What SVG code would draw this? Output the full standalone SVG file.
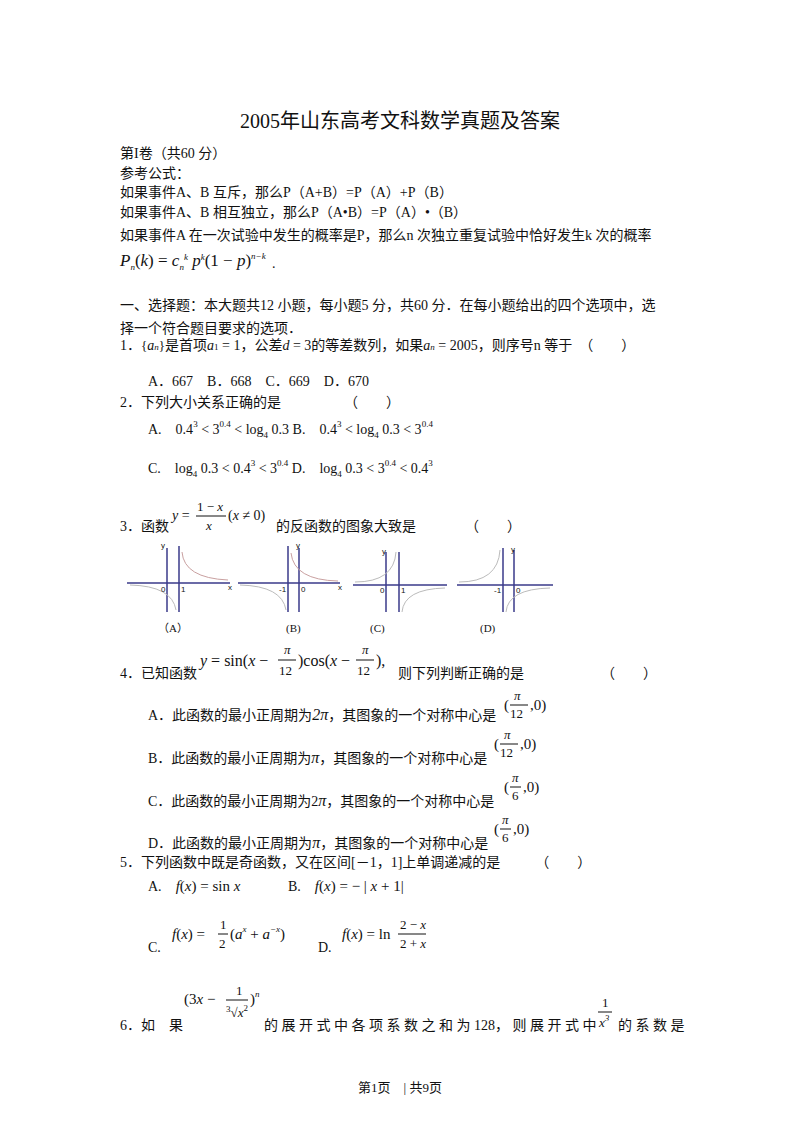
<svg xmlns="http://www.w3.org/2000/svg" width="800" height="1132" viewBox="0 0 800 1132">
<style>
text{font-family:"Liberation Serif","Noto Sans CJK SC",serif;font-size:14px;fill:#111}
.m{font-style:italic}
.ax{stroke:#3a3a8a;stroke-width:1.5;fill:none}
.cv{stroke:#c9a0a0;stroke-width:1;fill:none}
.cg{stroke:#bbb;stroke-width:1;fill:none}
.s{font-size:9px}
.t{font-size:8px;font-family:"Liberation Sans",sans-serif}
</style>
<rect width="800" height="1132" fill="#fff"/>
<text x="400" y="128" text-anchor="middle" style="font-size:20px">2005年山东高考文科数学真题及答案</text>
<text x="120" y="158">第I卷（共60 分）</text>
<text x="120" y="178">参考公式：</text>
<text x="120" y="197">如果事件A、B 互斥，那么P（A+B）=P（A）+P（B）</text>
<text x="120" y="217">如果事件A、B 相互独立，那么P（A•B）=P（A）•（B）</text>
<text x="120" y="240">如果事件A 在一次试验中发生的概率是P，那么n 次独立重复试验中恰好发生k 次的概率</text>
<text x="120" y="266" style="font-size:17px"><tspan class="m">P</tspan><tspan class="s m" dy="4">n</tspan><tspan dy="-4">(</tspan><tspan class="m">k</tspan>) = <tspan class="m">c</tspan><tspan class="s m" dy="4">n</tspan><tspan class="s m" dy="-10">k</tspan><tspan dy="6"> </tspan><tspan class="m">p</tspan><tspan class="s m" dy="-6">k</tspan><tspan dy="6">(1 − </tspan><tspan class="m">p</tspan>)<tspan class="s m" dy="-7">n−k</tspan></text>
<text x="272" y="268">.</text>
<text x="120" y="310">一、选择题：本大题共12 小题，每小题5 分，共60 分．在每小题给出的四个选项中，选</text>
<text x="120" y="333">择一个符合题目要求的选项．</text>
<text x="120" y="350">1．<tspan style="font-size:13px">{</tspan><tspan class="m">a</tspan><tspan class="s m">n</tspan><tspan style="font-size:13px">}</tspan>是首项<tspan class="m">a</tspan><tspan class="s">1</tspan> = 1，公差<tspan class="m">d</tspan> = 3的等差数列，如果<tspan class="m">a</tspan><tspan class="s m">n</tspan> = 2005，则序号n 等于　（　　）</text>
<text x="148" y="386">A．667　B．668　C．669　D．670</text>
<text x="120" y="407">2．下列大小关系正确的是　　　　　（　　）</text>
<text x="148" y="434">A.　0.4<tspan class="s" dy="-7">3</tspan><tspan dy="7"> &lt; 3</tspan><tspan class="s" dy="-7">0.4</tspan><tspan dy="7"> &lt; log</tspan><tspan class="s" dy="4">4</tspan><tspan dy="-4"> 0.3 B.　0.4</tspan><tspan class="s" dy="-7">3</tspan><tspan dy="7"> &lt; log</tspan><tspan class="s" dy="4">4</tspan><tspan dy="-4"> 0.3 &lt; 3</tspan><tspan class="s" dy="-7">0.4</tspan></text>
<text x="148" y="473">C.　log<tspan class="s" dy="4">4</tspan><tspan dy="-4"> 0.3 &lt; 0.4</tspan><tspan class="s" dy="-7">3</tspan><tspan dy="7"> &lt; 3</tspan><tspan class="s" dy="-7">0.4</tspan><tspan dy="7"> D.　log</tspan><tspan class="s" dy="4">4</tspan><tspan dy="-4"> 0.3 &lt; 3</tspan><tspan class="s" dy="-7">0.4</tspan><tspan dy="7"> &lt; 0.4</tspan><tspan class="s" dy="-7">3</tspan></text>
<text x="120" y="531">3．函数</text>
<text x="172" y="520"><tspan class="m">y</tspan> =</text>
<text x="197" y="511" style="font-size:13px">1 − <tspan class="m">x</tspan></text>
<line x1="196" y1="516" x2="226" y2="516" stroke="#111"/>
<text x="206" y="530" class="m" style="font-size:13px">x</text>
<text x="228" y="520">(<tspan class="m">x</tspan> ≠ 0)</text>
<text x="276" y="531">的反函数的图象大致是　　　　（　　）</text>
<g id="graphA">
<line class="ax" x1="127" y1="583" x2="230" y2="583"/><line class="ax" x1="167" y1="548" x2="167" y2="612"/><line class="ax" x1="179" y1="546" x2="179" y2="612"/>
<path class="cv" d="M182 552 Q184 578 228 580"/><path class="cg" d="M130 585 Q172 586 176 610"/>
<text class="t" x="161" y="548">y</text><text class="t" x="161" y="592">0</text><text class="t" x="181" y="592">1</text><text class="t" x="228" y="590">x</text>
<text x="158" y="632" style="font-size:11px">（A）</text></g>
<g id="graphB">
<line class="ax" x1="238" y1="583" x2="340" y2="583"/><line class="ax" x1="288" y1="546" x2="288" y2="612"/><line class="ax" x1="299" y1="548" x2="299" y2="612"/>
<path class="cv" d="M291 553 Q294 580 338 581"/><path class="cg" d="M240 585 Q282 586 286 610"/>
<text class="t" x="296" y="548">y</text><text class="t" x="279" y="592">-1</text><text class="t" x="301" y="592">0</text><text class="t" x="338" y="590">x</text>
<text x="286" y="632" style="font-size:11px">(B)</text></g>
<g id="graphC">
<line class="ax" x1="353" y1="585" x2="447" y2="585"/><line class="ax" x1="386" y1="552" x2="386" y2="612"/><line class="ax" x1="399" y1="552" x2="399" y2="612"/>
<path class="cg" d="M355 582 Q394 582 396 552"/><path class="cg" d="M402 612 Q404 589 445 588"/>
<text class="t" x="382" y="554">y</text><text class="t" x="380" y="593">0</text><text class="t" x="401" y="593">1</text>
<text x="370" y="632" style="font-size:11px">(C)</text></g>
<g id="graphD">
<line class="ax" x1="457" y1="585" x2="553" y2="585"/><line class="ax" x1="503" y1="548" x2="503" y2="612"/><line class="ax" x1="514" y1="550" x2="514" y2="612"/>
<path class="cg" d="M459 582 Q498 582 500 550"/><path class="cg" d="M506 612 Q508 589 550 588"/>
<text class="t" x="511" y="552">y</text><text class="t" x="494" y="593">-1</text><text class="t" x="516" y="593">0</text>
<text x="480" y="632" style="font-size:11px">(D)</text></g>
<text x="120" y="678">4．已知函数</text>
<text x="200" y="666" style="font-size:16px"><tspan class="m">y</tspan> = sin(<tspan class="m">x</tspan> − </text>
<text x="284" y="654" class="m" style="font-size:13px">π</text><line x1="278" y1="660" x2="296" y2="660" stroke="#111"/><text x="279" y="675" style="font-size:13px">12</text>
<text x="298" y="666" style="font-size:16px">)cos(<tspan class="m">x</tspan> − </text>
<text x="362" y="654" class="m" style="font-size:13px">π</text><line x1="356" y1="660" x2="374" y2="660" stroke="#111"/><text x="357" y="675" style="font-size:13px">12</text>
<text x="376" y="666" style="font-size:16px">),</text>
<text x="398" y="678">则下列判断正确的是　　　　　　（　　）</text>
<g id="q4opts">
<text x="148" y="720">A．此函数的最小正周期为<tspan class="m" style="font-size:16px">2π</tspan>，其图象的一个对称中心是</text>
<text x="148" y="763">B．此函数的最小正周期为<tspan class="m" style="font-size:16px">π</tspan>，其图象的一个对称中心是</text>
<text x="148" y="806">C．此函数的最小正周期为2<tspan class="m" style="font-size:16px">π</tspan>，其图象的一个对称中心是</text>
<text x="148" y="848">D．此函数的最小正周期为<tspan class="m" style="font-size:16px">π</tspan>，其图象的一个对称中心是</text>
<text x="504" y="710" style="font-size:15px">(</text><text x="514" y="700" class="m" style="font-size:13px">π</text><line x1="510" y1="705" x2="528" y2="705" stroke="#111"/><text x="510" y="718" style="font-size:13px">12</text><text x="530" y="710" style="font-size:15px">,0)</text>
<text x="494" y="749" style="font-size:15px">(</text><text x="504" y="739" class="m" style="font-size:13px">π</text><line x1="500" y1="744" x2="518" y2="744" stroke="#111"/><text x="500" y="757" style="font-size:13px">12</text><text x="520" y="749" style="font-size:15px">,0)</text>
<text x="504" y="792" style="font-size:15px">(</text><text x="512" y="782" class="m" style="font-size:13px">π</text><line x1="510" y1="787" x2="521" y2="787" stroke="#111"/><text x="512" y="800" style="font-size:13px">6</text><text x="523" y="792" style="font-size:15px">,0)</text>
<text x="494" y="834" style="font-size:15px">(</text><text x="502" y="824" class="m" style="font-size:13px">π</text><line x1="500" y1="829" x2="511" y2="829" stroke="#111"/><text x="502" y="842" style="font-size:13px">6</text><text x="513" y="834" style="font-size:15px">,0)</text>
</g>
<text x="120" y="867">5．下列函数中既是奇函数，又在区间[－1，1]上单调递减的是　　　（　　）</text>
<text x="148" y="891">A.　<tspan class="m" style="font-size:15px">f</tspan><tspan style="font-size:15px">(<tspan class="m">x</tspan>) = sin <tspan class="m">x</tspan></tspan></text>
<text x="288" y="891">B.　<tspan style="font-size:15px"><tspan class="m">f</tspan>(<tspan class="m">x</tspan>) = − | <tspan class="m">x</tspan> + 1|</tspan></text>
<text x="148" y="952">C.</text>
<text x="172" y="939" style="font-size:15px"><tspan class="m">f</tspan>(<tspan class="m">x</tspan>) =</text>
<text x="220" y="929" style="font-size:13px">1</text><line x1="218" y1="934" x2="228" y2="934" stroke="#111"/><text x="219" y="948" style="font-size:13px">2</text>
<text x="230" y="939" style="font-size:15px">(<tspan class="m">a</tspan><tspan class="s m" dy="-7">x</tspan><tspan dy="7"> + </tspan><tspan class="m">a</tspan><tspan class="s m" dy="-7">−x</tspan><tspan dy="7">)</tspan></text>
<text x="318" y="952">D.</text>
<text x="342" y="939" style="font-size:15px"><tspan class="m">f</tspan>(<tspan class="m">x</tspan>) = ln</text>
<text x="400" y="929" style="font-size:13px">2 − <tspan class="m">x</tspan></text><line x1="398" y1="934" x2="426" y2="934" stroke="#111"/><text x="400" y="948" style="font-size:13px">2 + <tspan class="m">x</tspan></text>
<text x="120" y="1030">6．如　果</text>
<text x="184" y="1004" style="font-size:15px">(3<tspan class="m">x</tspan> − </text>
<text x="236" y="995" style="font-size:13px">1</text><line x1="226" y1="1000" x2="248" y2="1000" stroke="#111"/>
<text x="226" y="1017" style="font-size:13px"><tspan class="s" dy="-5">3</tspan><tspan dy="5">√</tspan><tspan class="m">x</tspan><tspan class="s" dy="-6">2</tspan></text>
<text x="250" y="1004" style="font-size:15px">)<tspan class="s m" dy="-7">n</tspan></text>
<text x="264" y="1030">的 展 开 式 中 各 项 系 数 之 和 为 128， 则 展 开 式 中</text>
<text x="602" y="1007" style="font-size:13px">1</text><line x1="598" y1="1012" x2="612" y2="1012" stroke="#111"/><text x="599" y="1027" class="m" style="font-size:13px">x<tspan class="s" dy="-6">3</tspan></text>
<text x="618" y="1030">的 系 数 是</text>
<text x="400" y="1092" text-anchor="middle" style="font-size:13px">第1页　| 共9页</text>
</svg>
